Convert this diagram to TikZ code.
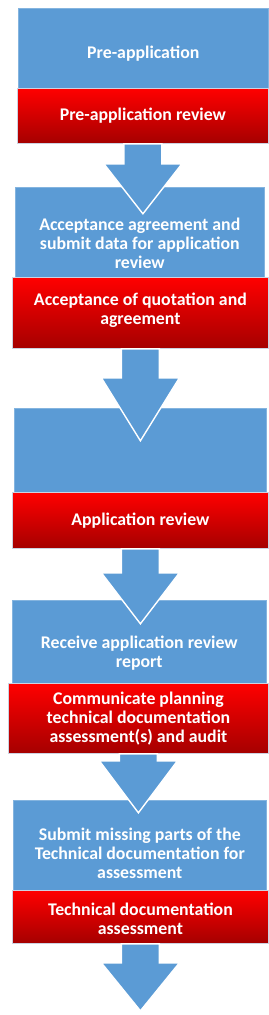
\documentclass[tikz,border=0pt]{standalone}
\usepackage{fontspec}
\setmainfont{Carlito}
\definecolor{stepblue}{RGB}{91,155,213}
\definecolor{stepred}{RGB}{255,0,0}
\definecolor{stepdarkred}{RGB}{165,0,0}
\definecolor{stepedge}{RGB}{205,210,225}
\tikzset{
  bluebox/.style={draw=stepblue!75!white, line width=0.6pt, fill=stepblue,
    anchor=north west, inner sep=0pt},
  redbox/.style={draw=stepedge, line width=0.8pt, top color=stepred,
    middle color=stepred!92!black, bottom color=stepdarkred,
    anchor=north west, inner sep=0pt},
  boxtext/.style={text=white, font=\bfseries\fontsize{17.8}{19.2}\selectfont,
    align=center, inner sep=0pt},
  downarrow/.style={fill=stepblue, draw=white, line width=1.4pt, line join=miter},
}
% block arrow below a box: node, shaft length, total length
\newcommand{\flowarrow}[3]{%
  \draw[downarrow] ([xshift=-19pt]#1.south) -- ++(0,#2) -- ++(-20,0)
    -- ++(39,{#3-#2}) -- ++(39,{#2-#3}) -- ++(-20,0) -- ++(0,-#2) -- cycle;}
\begin{document}
\begin{tikzpicture}[x=1pt,y=-1pt]
    \useasboundingbox (0,0) rectangle (268,1015);

    % Stufe 1
    \node[bluebox, minimum width=250pt, minimum height=80pt] (b1) at (18,8) {};
    \node[redbox, minimum width=251pt, minimum height=55pt] (r1) at (17,88) {};

    % Stufe 2
    \node[bluebox, minimum width=249pt, minimum height=90pt] (b2) at (15,187) {};
    \node[redbox, minimum width=256pt, minimum height=71pt] (r2) at (12,277) {};

    % Stufe 3
    \node[bluebox, minimum width=252pt, minimum height=84pt] (b3) at (14,408) {};
    \node[redbox, minimum width=256pt, minimum height=56pt] (r3) at (12,492) {};

    % Stufe 4
    \node[bluebox, minimum width=254pt, minimum height=83pt] (b4) at (12,600) {};
    \node[redbox, minimum width=260pt, minimum height=70pt] (r4) at (8,683) {};

    % Stufe 5
    \node[bluebox, minimum width=253pt, minimum height=90pt] (b5) at (13,800) {};
    \node[redbox, minimum width=256pt, minimum height=53pt] (r5) at (12,890) {};

    % Pfeile
    \flowarrow{r1}{20}{70}
    \flowarrow{r2}{29}{92}
    \flowarrow{r3}{24}{75}
    \flowarrow{r4}{7}{59}
    \flowarrow{r5}{19}{67}

    % Texte
    \node[boxtext] (t1) at ([yshift=-5pt]b1.center) {Pre-application};
    \node[boxtext] (u1) at (r1.center) {Pre-application review};
    \node[boxtext] (t2) at ([yshift=-11pt]b2.center) {Acceptance agreement and\\submit data for application\\review};
    \node[boxtext] (u2) at ([yshift=3pt]r2.center) {Acceptance of quotation and\\agreement};
    \node[boxtext] (u3) at (r3.center) {Application review};
    \node[boxtext] (t4) at ([yshift=-11pt]b4.center) {Receive application review\\report};
    \node[boxtext] (u4) at (r4.center) {Communicate planning\\technical documentation\\assessment(s) and audit};
    \node[boxtext] (t5) at ([yshift=-8pt]b5.center) {Submit missing parts of the\\Technical documentation for\\assessment};
    \node[boxtext] (u5) at ([yshift=-2pt]r5.center) {Technical documentation\\assessment};
\end{tikzpicture}
\end{document}
